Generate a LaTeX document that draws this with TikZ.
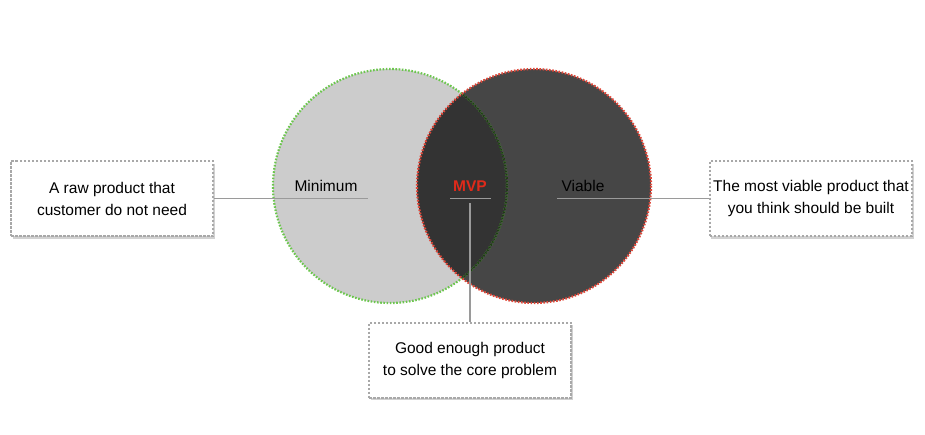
\documentclass[tikz,border=0pt]{standalone}
\usepackage{fontspec}
\setmainfont{Liberation Sans}
\usetikzlibrary{shadows}
\definecolor{lightfill}{HTML}{CCCCCC}
\definecolor{darkfill}{HTML}{464646}
\definecolor{overlapfill}{HTML}{333333}
\definecolor{mingreen}{HTML}{6CC64E}
\definecolor{viared}{HTML}{E0483A}
\definecolor{mvpred}{HTML}{E02A1A}
\definecolor{linegray}{HTML}{9A9A9A}
\definecolor{boxgray}{HTML}{A8A8A8}
\tikzset{
  notebox/.style={draw=boxgray, line width=2pt, dash pattern=on 2.5pt off 1.5pt,
    fill=white, minimum width=202pt, minimum height=75pt, align=center,
    font=\fontsize{15.5}{22}\selectfont,
    drop shadow={shadow xshift=1.5pt, shadow yshift=-2.5pt, opacity=0.3, fill=black!60}},
  leader/.style={linegray, line width=1.8pt},
  setlabel/.style={font=\fontsize{15.5}{18}\selectfont},
  setedge/.style={line width=2.2pt, dash pattern=on 1.6pt off 1.6pt}
}
\begin{document}
\begin{tikzpicture}[x=1pt,y=-1pt]
    \useasboundingbox (0,0) rectangle (925,434);
    \coordinate (cmin) at (390,186);
    \coordinate (cvia) at (534,186);
    % the two sets
    \fill[lightfill] (cmin) circle (117);
    \fill[darkfill] (cvia) circle (117);
    \begin{scope}
        \clip (cmin) circle (117);
        \fill[overlapfill] (cvia) circle (117);
    \end{scope}
    \draw[mingreen, setedge] (cmin) circle (117);
    \begin{scope}
        \clip (cvia) circle (117);
        \draw[mingreen!30!black, setedge] (cmin) circle (117);
    \end{scope}
    \draw[viared, setedge] (cvia) circle (117);
    % labels in the sets
    \node[setlabel] (minlabel) at (326,186) {Minimum};
    \node[setlabel] (vialabel) at (583,186) {Viable};
    \node[setlabel, font=\fontsize{15.5}{18}\selectfont\bfseries, text=mvpred] (mvplabel) at (470,186) {MVP};
    % explanation boxes
    \node[notebox] (rawbox) at (112,198.5) {A raw product that\\customer do not need};
    \node[notebox] (viabox) at (811,198.5) {The most viable product that\\you think should be built};
    \node[notebox] (goodbox) at (470,360) {Good enough product\\to solve the core problem};
    \coordinate (minend) at (368,198.5);
    \coordinate (viaend) at (557,198.5);
    \coordinate (mvpleft) at (450,198.5);
    \coordinate (mvpright) at (491,198.5);
    \coordinate (mvpdown) at (470,203);
    \draw[leader] (rawbox.east) -- (minend);
    \draw[leader] (viaend) -- (viabox.west);
    \draw[leader] (mvpleft) -- (mvpright);
    \draw[leader] (mvpdown) -- (goodbox.north);
\end{tikzpicture}
\end{document}
